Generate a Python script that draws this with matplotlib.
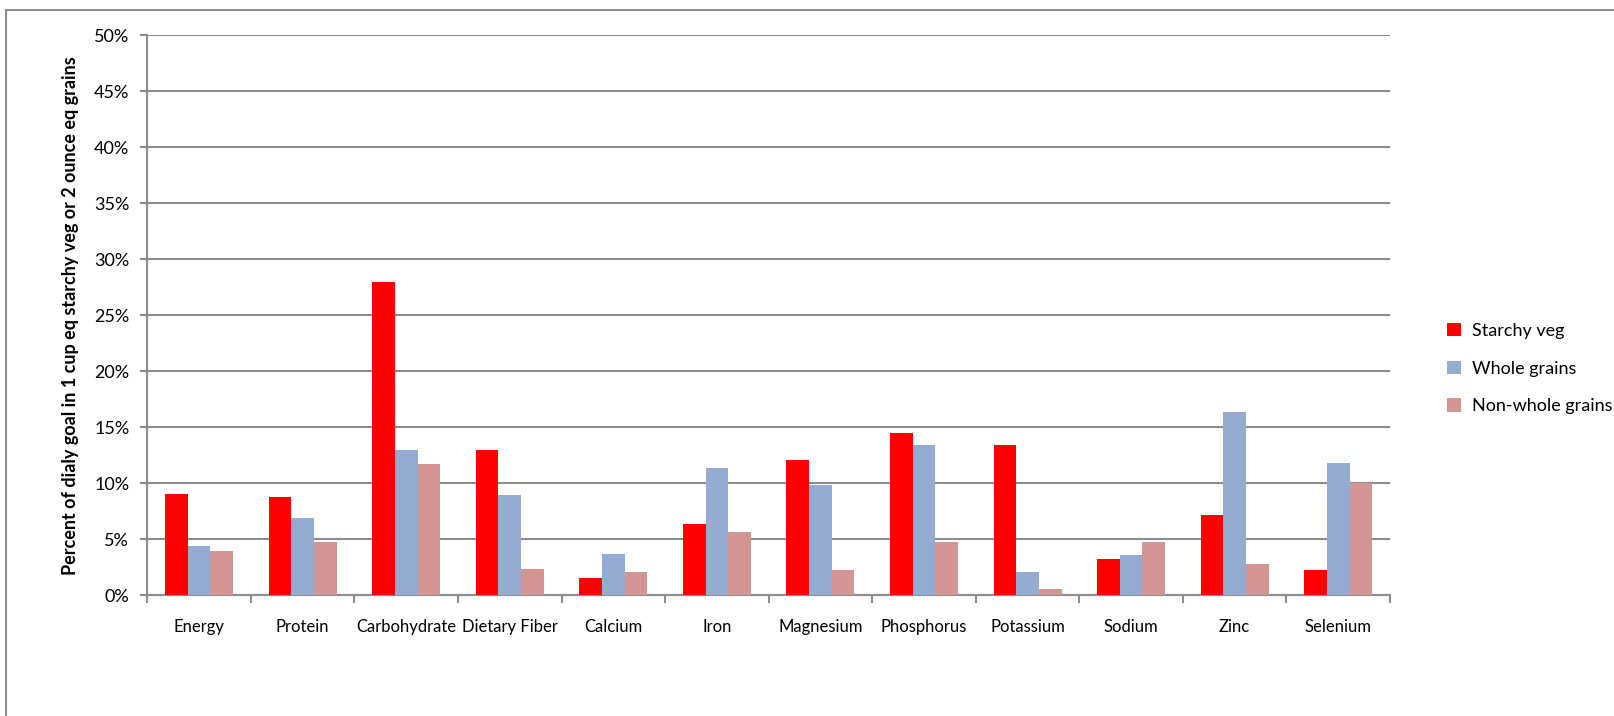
import numpy as np
import matplotlib.pyplot as plt
from matplotlib.lines import Line2D

nutrients = ["Energy", "Protein", "Carbohydrate", "Dietary Fiber", "Calcium", "Iron",
             "Magnesium", "Phosphorus", "Potassium", "Sodium", "Zinc", "Selenium"]
starchy_veg = [9.1, 8.8, 28.0, 13.0, 1.6, 6.4, 12.1, 14.5, 13.4, 3.3, 7.2, 2.3]
whole_grains = [4.4, 6.9, 13.0, 9.0, 3.7, 11.4, 9.9, 13.4, 2.1, 3.6, 16.4, 11.8]
non_whole_grains = [4.0, 4.8, 11.7, 2.4, 2.1, 5.7, 2.3, 4.8, 0.6, 4.8, 2.8, 10.0]

series = ["Starchy veg", "Whole grains", "Non-whole grains"]
colors = ["#ff0000", "#95abd1", "#d39494"]

plt.rcParams['font.family'] = ['Lato', 'DejaVu Sans']

fig = plt.figure(figsize=(16.14, 7.16), dpi=100)
ax = fig.add_axes([0.0913, 0.1683, 0.7699, 0.7827])

x = np.arange(len(nutrients))
w = 0.219
for i, (vals, c, name) in enumerate(zip([starchy_veg, whole_grains, non_whole_grains], colors, series)):
    ax.bar(x + (i - 1) * w, np.array(vals) / 100, width=w, color=c, label=name, zorder=3)

ax.set_xlim(-0.5, len(nutrients) - 0.5)
ax.set_ylim(0, 0.5)
ax.set_yticks(np.arange(0, 0.501, 0.05))
ax.set_yticklabels([f"{int(round(v * 100))}%" for v in np.arange(0, 0.501, 0.05)], fontsize=13)
ax.yaxis.grid(True, color="#8c8c8c", linewidth=1.5, zorder=0)

ax.set_xticks(x)
ax.set_xticklabels(nutrients, fontsize=12)
ax.tick_params(axis="x", length=0, pad=17)
ax.set_xticks(np.arange(-0.5, len(nutrients)), minor=True)
ax.tick_params(axis="x", which="minor", length=6, width=1.5, color="#8c8c8c")
ax.tick_params(axis="y", length=5, width=1.5, color="#8c8c8c", pad=8)

for s in ["top", "right"]:
    ax.spines[s].set_visible(False)
for s in ["left", "bottom"]:
    ax.spines[s].set_color("#8c8c8c")
    ax.spines[s].set_linewidth(1.5)

ax.set_ylabel("Percent of dialy goal in 1 cup eq starchy veg or 2 ounce eq grains",
              fontsize=13, fontweight="bold", labelpad=11)

ax.legend(loc="center left", bbox_to_anchor=(1.033, 0.405), frameon=False, fontsize=13,
          handlelength=0.75, handleheight=0.75, handletextpad=0.6, labelspacing=1.2)

# chart area border (top and left edges visible)
fig.add_artist(Line2D([6 / 1614, 1.0], [1 - 10 / 716, 1 - 10 / 716], color="#8c8c8c", linewidth=1.5))
fig.add_artist(Line2D([6 / 1614, 6 / 1614], [0.0, 1 - 10 / 716], color="#8c8c8c", linewidth=1.5))

fig.savefig("out.png", dpi=100)
